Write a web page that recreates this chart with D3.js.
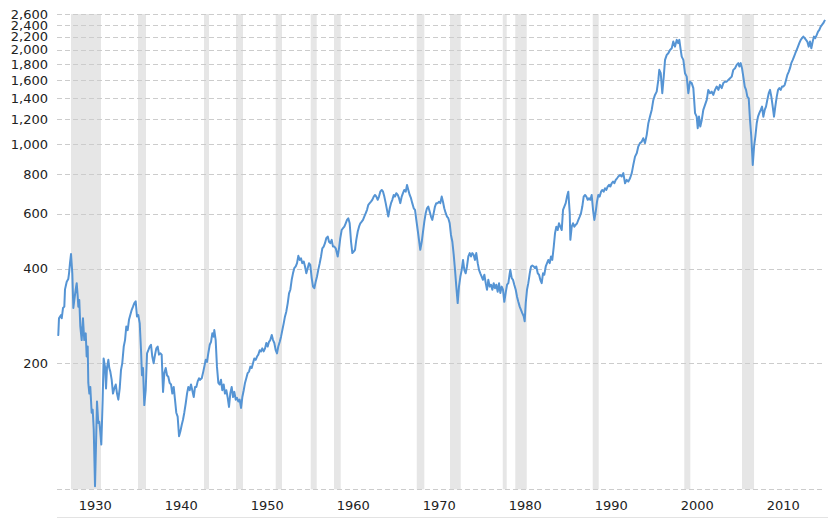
<!DOCTYPE html>
<html>
<head>
<meta charset="utf-8">
<script src="https://cdn.jsdelivr.net/npm/d3@7"></script>
<style>
  html, body { margin: 0; padding: 0; background: #fff; }
  svg { display: block; }
  .axis text { font-family: "DejaVu Sans", Verdana, sans-serif; font-size: 13px; fill: #222; }
</style>
</head>
<body>
<svg id="chart" width="828" height="519"></svg>
<script>
// ---- data ----
const yTickValues = [200, 400, 600, 800, 1000, 1200, 1400, 1600, 1800, 2000, 2200, 2400, 2600];
const xTickYears = [1930, 1940, 1950, 1960, 1970, 1980, 1990, 2000, 2010];

// recession periods (shaded bands), decimal years
const recessionStart = [1929.63, 1937.42, 1945.09, 1948.81, 1953.43, 1957.50, 1960.21, 1969.83, 1973.70, 1979.83, 1981.29, 1990.29, 2000.94, 2007.65];
const recessionEnd   = [1933.12, 1938.35, 1945.67, 1949.63, 1954.16, 1958.20, 1960.99, 1970.71, 1974.94, 1980.29, 1982.62, 1990.99, 2001.64, 2009.05];

// index value (inflation adjusted), [decimal year, value]
const series1928 = [[1928.08,247],[1928.15,246],[1928.23,278],[1928.47,285],[1928.55,278],[1928.70,300],[1928.85,303],[1928.93,344],[1929.13,364],[1929.31,371],[1929.40,387],[1929.51,417],[1929.63,446],[1929.78,387],[1929.90,300],[1930.01,318],[1930.17,343],[1930.29,360],[1930.41,326],[1930.48,303],[1930.59,318],[1930.71,262],[1930.87,237],[1931.02,278],[1931.17,237],[1931.34,249],[1931.45,210],[1931.57,226],[1931.64,173],[1931.76,160],[1931.87,168],[1932.03,139],[1932.15,142],[1932.27,123],[1932.42,81],[1932.53,108],[1932.65,151],[1932.80,129],[1932.92,130],[1933.03,121],[1933.15,110],[1933.31,153],[1933.42,207],[1933.58,195],[1933.70,166],[1933.81,193],[1933.97,205],[1934.08,193],[1934.20,188],[1934.36,177],[1934.51,160],[1934.66,166],[1934.83,171],[1934.98,160],[1935.13,153],[1935.29,166],[1935.44,190],[1935.59,200],[1935.76,226],[1935.91,237],[1936.06,262],[1936.22,255],[1936.37,275],[1936.52,285],[1936.69,296],[1936.84,303],[1936.99,311],[1937.15,315],[1937.30,282],[1937.45,285],[1937.62,268],[1937.77,220],[1937.88,183],[1938.00,193],[1938.15,147],[1938.31,164],[1938.47,215],[1938.62,220],[1938.78,226],[1938.93,229],[1939.08,210],[1939.24,200],[1939.40,213],[1939.55,223],[1939.71,226],[1939.86,213],[1940.01,215],[1940.17,213],[1940.33,162],[1940.48,186],[1940.64,193],[1940.79,183],[1940.94,181],[1941.10,173],[1941.26,171],[1941.41,160],[1941.57,168],[1941.72,153],[1941.87,139],[1942.03,135],[1942.19,117],[1942.34,121],[1942.50,127],[1942.65,132],[1942.80,139],[1942.97,149],[1943.12,160],[1943.27,168],[1943.43,164],[1943.58,171],[1943.73,164],[1943.90,156],[1944.05,168],[1944.20,168],[1944.36,175],[1944.51,179]];

const series1944 = [[1944.63,177],[1944.83,179],[1945.01,188],[1945.13,195],[1945.29,205],[1945.44,202],[1945.59,215],[1945.76,229],[1945.91,234],[1946.06,249],[1946.22,243],[1946.29,255],[1946.45,237],[1946.60,195],[1946.76,173],[1946.92,171],[1947.07,177],[1947.22,164],[1947.38,171],[1947.53,160],[1947.69,164],[1947.85,155],[1948.00,145],[1948.15,160],[1948.31,168],[1948.47,156],[1948.62,162],[1948.78,153],[1948.93,155],[1949.08,151],[1949.24,153],[1949.40,144],[1949.55,156],[1949.71,164],[1949.86,173],[1950.01,179],[1950.17,186],[1950.33,188],[1950.48,195],[1950.64,193],[1950.79,200],[1950.94,207],[1951.10,205],[1951.26,210],[1951.41,213],[1951.57,220],[1951.72,218],[1951.87,223],[1952.03,218],[1952.19,223],[1952.34,232],[1952.50,226],[1952.65,234],[1952.80,237],[1952.97,246],[1953.12,237],[1953.27,232],[1953.43,220],[1953.58,215],[1953.73,226],[1953.90,234],[1954.05,243],[1954.20,255],[1954.36,268],[1954.51,282],[1954.66,292],[1954.83,311],[1954.98,334],[1955.13,343],[1955.29,369],[1955.44,387],[1955.59,402],[1955.76,407],[1955.91,417],[1956.06,440],[1956.22,427],[1956.37,432],[1956.52,417],[1956.69,422],[1956.84,407],[1956.99,387],[1957.15,402],[1957.30,417],[1957.45,412],[1957.62,373],[1957.77,351],[1957.92,347],[1958.08,364],[1958.23,378],[1958.38,397],[1958.55,417],[1958.70,438],[1958.85,465],[1959.01,471],[1959.16,483],[1959.31,501],[1959.48,507],[1959.63,488],[1959.78,483],[1959.94,495],[1960.09,471],[1960.24,471],[1960.41,465]];

const series1960 = [[1960.64,438],[1960.79,465],[1960.94,501],[1961.10,532],[1961.26,539],[1961.41,545],[1961.57,559],[1961.72,573],[1961.87,580],[1962.03,559],[1962.19,488],[1962.34,449],[1962.50,454],[1962.65,460],[1962.80,495],[1962.97,526],[1963.12,545],[1963.27,559],[1963.43,566],[1963.58,573],[1963.73,587],[1963.90,602],[1964.05,617],[1964.20,640],[1964.36,648],[1964.51,655],[1964.66,664],[1964.83,680],[1964.98,688],[1965.13,680],[1965.29,664],[1965.44,680],[1965.59,705],[1965.76,714],[1965.91,705],[1966.06,680],[1966.22,648],[1966.37,617],[1966.52,587],[1966.69,624],[1966.84,648],[1966.99,664],[1967.15,688],[1967.30,680],[1967.45,697],[1967.62,688],[1967.77,672],[1967.92,648],[1968.08,680],[1968.23,697],[1968.38,714],[1968.55,705],[1968.70,741],[1968.85,714],[1969.01,688],[1969.16,672],[1969.31,648],[1969.48,624],[1969.63,617],[1969.78,573],[1969.94,532],[1970.09,495],[1970.24,460],[1970.41,488],[1970.56,526],[1970.71,566],[1970.87,602],[1971.02,624],[1971.17,632],[1971.33,609],[1971.49,587],[1971.64,573],[1971.80,602],[1971.95,632],[1972.10,648],[1972.27,648],[1972.42,655],[1972.57,648],[1972.73,680],[1972.88,655],[1973.03,624],[1973.20,602],[1973.35,587],[1973.50,580],[1973.66,559],[1973.81,513],[1973.97,488],[1974.13,443],[1974.28,397],[1974.43,351],[1974.59,311],[1974.74,351],[1974.90,378],[1975.06,397],[1975.21,427],[1975.36,397],[1975.52,387],[1975.67,407],[1975.83,438],[1975.99,449],[1976.14,438],[1976.29,449],[1976.45,443],[1976.60,427],[1976.75,449]];

const series1977 = [[1976.92,417],[1977.07,397],[1977.22,387],[1977.38,378],[1977.53,369],[1977.69,383],[1977.85,360],[1978.00,343],[1978.15,369],[1978.31,351],[1978.47,356],[1978.62,343],[1978.78,360],[1978.93,347],[1979.08,356],[1979.24,338],[1979.40,360],[1979.55,335],[1979.71,351],[1979.86,343],[1980.01,314],[1980.17,335],[1980.33,356],[1980.48,360],[1980.64,387],[1980.71,397],[1980.87,374],[1981.02,369],[1981.17,356],[1981.34,343],[1981.49,326],[1981.64,314],[1981.80,303],[1981.95,296],[1982.10,289],[1982.27,282],[1982.38,272],[1982.50,311],[1982.65,343],[1982.80,360],[1982.97,387],[1983.12,407],[1983.27,410],[1983.43,407],[1983.58,402],[1983.73,407],[1983.90,387],[1984.05,383],[1984.20,369],[1984.36,360],[1984.51,387],[1984.66,383],[1984.83,407],[1984.98,417],[1985.13,427],[1985.29,417],[1985.44,438],[1985.59,427],[1985.76,471],[1985.91,520],[1986.06,545],[1986.22,532],[1986.37,559],[1986.52,545],[1986.69,532],[1986.84,617],[1986.99,632],[1987.15,648],[1987.30,680],[1987.45,705],[1987.62,602],[1987.69,495],[1987.85,545],[1988.00,559],[1988.15,545],[1988.31,552],[1988.47,559],[1988.62,573],[1988.78,587],[1988.93,602],[1989.08,632],[1989.24,680],[1989.40,688],[1989.55,680],[1989.71,664],[1989.86,672],[1990.01,664],[1990.17,688],[1990.33,617],[1990.48,573],[1990.64,609],[1990.79,655],[1990.94,688],[1991.10,680],[1991.26,705],[1991.41,714],[1991.57,705],[1991.72,723],[1991.87,714],[1992.03,732],[1992.19,741],[1992.34,732],[1992.50,750],[1992.65,759],[1992.80,750],[1992.97,769],[1993.12,778],[1993.27,788],[1993.47,797]];

const series1993 = [[1993.66,788],[1993.85,808],[1994.05,750],[1994.24,769],[1994.43,759],[1994.63,778],[1994.83,808],[1995.01,858],[1995.21,912],[1995.41,935],[1995.59,982],[1995.79,1007],[1995.99,1018],[1996.17,1044],[1996.37,1007],[1996.57,1070],[1996.76,1166],[1996.95,1224],[1997.15,1285],[1997.34,1383],[1997.53,1435],[1997.73,1470],[1997.92,1602],[1998.03,1725],[1998.20,1683],[1998.38,1453],[1998.55,1641],[1998.70,1856],[1998.90,1925],[1999.08,1949],[1999.28,1997],[1999.48,2022],[1999.66,2123],[1999.86,2046],[2000.06,2150],[2000.24,2098],[2000.36,2150],[2000.52,1997],[2000.64,1901],[2000.83,1856],[2001.02,1683],[2001.22,1641],[2001.41,1453],[2001.60,1582],[2001.80,1565],[2001.99,1508],[2002.19,1255],[2002.38,1224],[2002.50,1124],[2002.65,1224],[2002.80,1137],[2002.97,1194],[2003.15,1285],[2003.35,1334],[2003.55,1383],[2003.73,1489],[2003.93,1453],[2004.13,1470],[2004.31,1435],[2004.51,1489],[2004.71,1526],[2004.90,1489],[2005.09,1545],[2005.29,1508],[2005.48,1565],[2005.67,1582],[2005.87,1582],[2006.06,1602],[2006.26,1622]];

const series2006 = [[2006.45,1641],[2006.64,1725],[2006.84,1746],[2007.03,1789],[2007.22,1812],[2007.34,1767],[2007.50,1812],[2007.65,1746],[2007.80,1641],[2007.97,1526],[2008.12,1489],[2008.27,1417],[2008.43,1400],[2008.58,1194],[2008.73,1057],[2008.90,858],[2009.05,982],[2009.20,1057],[2009.36,1165],[2009.51,1223],[2009.66,1255],[2009.83,1285],[2009.98,1317],[2010.13,1223],[2010.29,1285],[2010.44,1317],[2010.59,1383],[2010.76,1453],[2010.91,1489],[2011.06,1417],[2011.22,1317],[2011.37,1223],[2011.52,1317],[2011.69,1417],[2011.84,1489],[2011.99,1508],[2012.15,1489],[2012.30,1526],[2012.45,1526],[2012.62,1545],[2012.77,1602],[2012.92,1662],[2013.08,1700],[2013.23,1746],[2013.38,1812],[2013.55,1856],[2013.70,1901],[2013.85,1949],[2014.01,1997],[2014.16,2046],[2014.31,2098],[2014.48,2150],[2014.63,2177],[2014.78,2202],[2014.94,2177],[2015.09,2150],[2015.24,2123],[2015.41,2046],[2015.56,2123],[2015.71,2022],[2015.87,2123],[2016.02,2202],[2016.17,2177],[2016.34,2230],[2016.49,2284],[2016.64,2313],[2016.80,2370],[2016.95,2400],[2017.10,2430],[2017.30,2490]];

const series = [].concat(series1928, series1944, series1960, series1977, series1993, series2006);

// ---- layout ----
const W = 828, H = 519;
const plotLeft = 57, plotRight = 825, plotTop = 14, plotBottom = 489.3;
const yMin = 79.2, yMax = 2600;
const xMinYear = 1928, xMaxYear = 2017.3;

const svg = d3.select("#chart");

const x = d3.scaleLinear().domain([xMinYear, xMaxYear]).range([plotLeft, plotRight]);
const y = d3.scaleLog().domain([yMin, yMax]).range([plotBottom, plotTop]);

// recession bands
svg.append("g").selectAll("rect")
  .data(recessionStart.map((s, i) => [s, recessionEnd[i]]))
  .join("rect")
  .attr("x", d => x(d[0]))
  .attr("width", d => x(d[1]) - x(d[0]))
  .attr("y", y(yMax))
  .attr("height", y(yMin) - y(yMax))
  .attr("fill", "#e6e6e6");

// y axis with gridlines
const yAxis = d3.axisLeft(y)
  .tickValues(yTickValues)
  .tickFormat(d3.format(","))
  .tickSize(-(plotRight - plotLeft))
  .tickPadding(9);
const gy = svg.append("g").attr("class", "axis").attr("transform", `translate(${plotLeft},0)`).call(yAxis);
gy.select(".domain").remove();
gy.selectAll(".tick line").attr("stroke", "#cccccc").attr("stroke-dasharray", "5,3").attr("shape-rendering", "crispEdges");

// x axis (baseline gridline at bottom)
const xAxis = d3.axisBottom(x)
  .tickValues(xTickYears)
  .tickFormat(d3.format("d"))
  .tickSize(0)
  .tickPadding(11);
const gx = svg.append("g").attr("class", "axis").attr("transform", `translate(0,${plotBottom})`).call(xAxis);
gx.select(".domain").attr("stroke", "#cccccc").attr("stroke-dasharray", "5,3").attr("shape-rendering", "crispEdges")
  .attr("d", `M${plotLeft},0H${plotRight}`);
gx.selectAll(".tick text").attr("dx", 20.5);

// light bottom rule
svg.append("line")
  .attr("x1", plotLeft).attr("x2", W)
  .attr("y1", 517.5).attr("y2", 517.5)
  .attr("stroke", "#e3e3e3").attr("stroke-width", 1);

// clip & line
svg.append("clipPath").attr("id", "plotclip")
  .append("rect").attr("x", plotLeft).attr("y", plotTop - 2).attr("width", W - plotLeft).attr("height", plotBottom - plotTop + 2);

const line = d3.line()
  .x(d => x(d[0]))
  .y(d => y(d[1]));

svg.append("path")
  .datum(series)
  .attr("clip-path", "url(#plotclip)")
  .attr("fill", "none")
  .attr("stroke", "#5594d4")
  .attr("stroke-width", 2)
  .attr("stroke-linejoin", "round")
  .attr("d", line);
</script>
</body>
</html>
